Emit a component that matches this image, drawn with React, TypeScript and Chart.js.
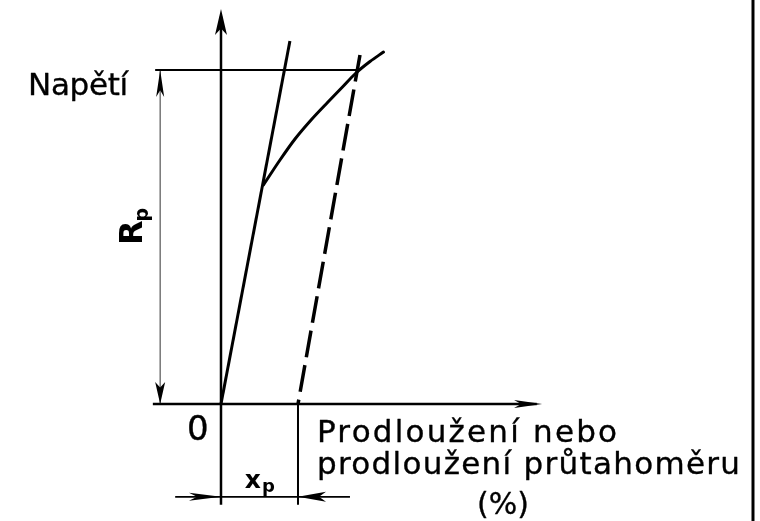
import React, { useEffect, useRef } from "react";
import { Chart, registerables } from "chart.js";

Chart.register(...registerables);

// ---- data (x: elongation in %, y: stress with Rp = 100) ----
const X_RANGE = [-0.574, 1.4];
const Y_RANGE = [-35.03, 120.96];

const XP = 0.2; // non-proportional elongation x_p (%)
const RP = 100; // proof strength Rp

// proportional (elastic) part of the curve
const elasticX = [0, 0.179];
const elasticY = [0, 108.7];

// non-proportional part of the stress-strain curve (leaves the elastic line)
const curveX = [0.1104, 0.1532, 0.1922, 0.2351, 0.2779, 0.3143, 0.3506, 0.387, 0.4221];
const curveY = [65.6, 73.05, 79.34, 85.18, 90.42, 94.76, 99.1, 102.54, 105.39];

// line parallel to the elastic part, offset by x_p
const offsetX = [0.361, XP];
const offsetY = [104.5, 0];

const yAxisX = [0, 0];
const yAxisY = [-30.2, 116];
const xAxisX = [-0.177, 0.82];
const xAxisY = [0, 0];

const rpLineX = [-0.171, 0.355];
const rpLineY = [RP, RP];
const rpDimX = [-0.158, -0.158];
const rpDimY = [0, RP];

const xpExtX = [XP, XP];
const xpExtY = [0, -30.2];
const xpDimX = [-0.119, 0.335];
const xpDimY = [-27.8, -27.8];

const frameX = [1.3818, 1.3818];
const frameY = [-40, 130];

// arrow tips (data units) and their direction
const arrowTipX = [0, 0.834, -0.158, -0.158, 0, XP];
const arrowTipY = [118.3, 0, RP, 0, -27.8, -27.8];
const arrowDir = ["up", "right", "up", "down", "right", "left"];

// labels
const yAxisLabel = "Napětí";
const originLabel = "0";
const xAxisLabelLines = ["Prodloužení nebo", "prodloužení průtahoměru", "(%)"];
const rpLabel = ["R", "p"];
const xpLabel = ["x", "p"];

// ---- styles / layout ----
const FONT = '"DejaVu Sans", "Liberation Sans", sans-serif';
const ARROW_STYLE = [
  { len: 26, hw: 6 },
  { len: 28, hw: 4 },
  { len: 27, hw: 4 },
  { len: 22, hw: 5 },
  { len: 32, hw: 4 },
  { len: 28, hw: 5 },
];

const pts = (xs: number[], ys: number[]) => xs.map((x, i) => ({ x, y: ys[i] }));

function line(xs: number[], ys: number[], width: number, color = "#000", extra: any = {}) {
  return {
    data: pts(xs, ys),
    borderColor: color,
    borderWidth: width,
    pointRadius: 0,
    fill: false,
    tension: 0,
    borderCapStyle: "butt",
    ...extra,
  };
}

function drawArrow(ctx: CanvasRenderingContext2D, tx: number, ty: number, dir: string, len: number, hw: number) {
  const d =
    dir === "up" ? [0, 1] : dir === "down" ? [0, -1] : dir === "left" ? [1, 0] : [-1, 0];
  const [dx, dy] = d;
  const bx = tx + dx * len;
  const by = ty + dy * len;
  const nx = -dy;
  const ny = dx;
  ctx.beginPath();
  ctx.moveTo(tx, ty);
  ctx.lineTo(bx + nx * hw, by + ny * hw);
  ctx.lineTo(tx + dx * len * 0.75, ty + dy * len * 0.75);
  ctx.lineTo(bx - nx * hw, by - ny * hw);
  ctx.closePath();
  ctx.fill();
}

function fitText(ctx: CanvasRenderingContext2D, text: string, x: number, y: number, target?: number) {
  const anyCtx = ctx as any;
  anyCtx.letterSpacing = "0px";
  if (target) {
    const w = ctx.measureText(text).width;
    const ls = (target - w) / Math.max(1, text.length - 1);
    anyCtx.letterSpacing = ls.toFixed(2) + "px";
  }
  ctx.fillText(text, x, y);
  ctx.strokeText(text, x, y);
  anyCtx.letterSpacing = "0px";
}

const annotations = {
  id: "annotations",
  afterDatasetsDraw(chart: any) {
    const ctx: CanvasRenderingContext2D = chart.ctx;
    const sx = chart.scales.x;
    const sy = chart.scales.y;
    const px = (v: number) => sx.getPixelForValue(v);
    const py = (v: number) => sy.getPixelForValue(v);
    ctx.save();
    ctx.fillStyle = "#000";
    ctx.strokeStyle = "#000";
    ctx.lineWidth = 0.35;
    ctx.lineJoin = "round";

    arrowTipX.forEach((x, i) => {
      drawArrow(ctx, px(x), py(arrowTipY[i]), arrowDir[i], ARROW_STYLE[i].len, ARROW_STYLE[i].hw);
    });

    ctx.textBaseline = "alphabetic";
    ctx.textAlign = "left";

    ctx.font = `31px ${FONT}`;
    fitText(ctx, yAxisLabel, px(-0.501), py(92.5), 100);

    ctx.textAlign = "center";
    ctx.font = `34px ${FONT}`;
    fitText(ctx, originLabel, px(-0.06), py(-10.8));

    ctx.textAlign = "left";
    ctx.font = `bold 25px ${FONT}`;
    const xx = px(0.062);
    const xy = py(-25.1);
    ctx.fillText(xpLabel[0], xx, xy);
    const xw = ctx.measureText(xpLabel[0]).width;
    ctx.font = `bold 18px ${FONT}`;
    ctx.fillText(xpLabel[1], xx + xw + 1, xy + 4);

    ctx.font = `31px ${FONT}`;
    fitText(ctx, xAxisLabelLines[0], px(0.2494), py(-11.38), 300);
    fitText(ctx, xAxisLabelLines[1], px(0.2494), py(-20.96), 423);
    ctx.textAlign = "center";
    ctx.font = `30px ${FONT}`;
    fitText(ctx, xAxisLabelLines[2], px(0.7325), py(-33.0));

    // Rp rotated
    ctx.save();
    ctx.translate(px(-0.2052), py(47.6));
    ctx.rotate(-Math.PI / 2);
    ctx.textAlign = "left";
    ctx.font = `bold 32px ${FONT}`;
    ctx.fillText(rpLabel[0], 0, 0);
    const rw = ctx.measureText(rpLabel[0]).width;
    ctx.font = `bold 19px ${FONT}`;
    ctx.fillText(rpLabel[1], rw - 1, 6);
    ctx.restore();

    ctx.restore();
  },
};

export default function App() {
  const ref = useRef<HTMLCanvasElement | null>(null);

  useEffect(() => {
    if (!ref.current) return;
    const chart = new Chart(ref.current, {
      type: "line",
      data: {
        datasets: [
          line(yAxisX, yAxisY, 2.5),
          line(xAxisX, xAxisY, 2.5),
          line(rpLineX, rpLineY, 2),
          line(rpDimX, rpDimY, 1.2, "#555"),
          line(xpExtX, xpExtY, 2),
          line(xpDimX, xpDimY, 1.6),
          line(frameX, frameY, 3),
          line(elasticX, elasticY, 3),
          line(curveX, curveY, 3, "#000", { cubicInterpolationMode: "monotone", borderCapStyle: "round" }),
          line(offsetX, offsetY, 3.5, "#000", { borderDash: [27, 8] }),
        ] as any,
      },
      options: {
        animation: false,
        responsive: false,
        maintainAspectRatio: false,
        layout: { padding: 0 },
        parsing: false as any,
        normalized: true,
        scales: {
          x: { type: "linear", min: X_RANGE[0], max: X_RANGE[1], display: false },
          y: { type: "linear", min: Y_RANGE[0], max: Y_RANGE[1], display: false },
        },
        plugins: {
          legend: { display: false },
          tooltip: { enabled: false },
        },
        elements: { point: { radius: 0 } },
      },
      plugins: [annotations],
    });
    return () => chart.destroy();
  }, []);

  return (
    <div style={{ position: "fixed", left: 0, top: 0, width: 760, height: 521, background: "#fff" }}>
      <canvas ref={ref} width={760} height={521} style={{ display: "block", width: 760, height: 521 }} />
    </div>
  );
}
